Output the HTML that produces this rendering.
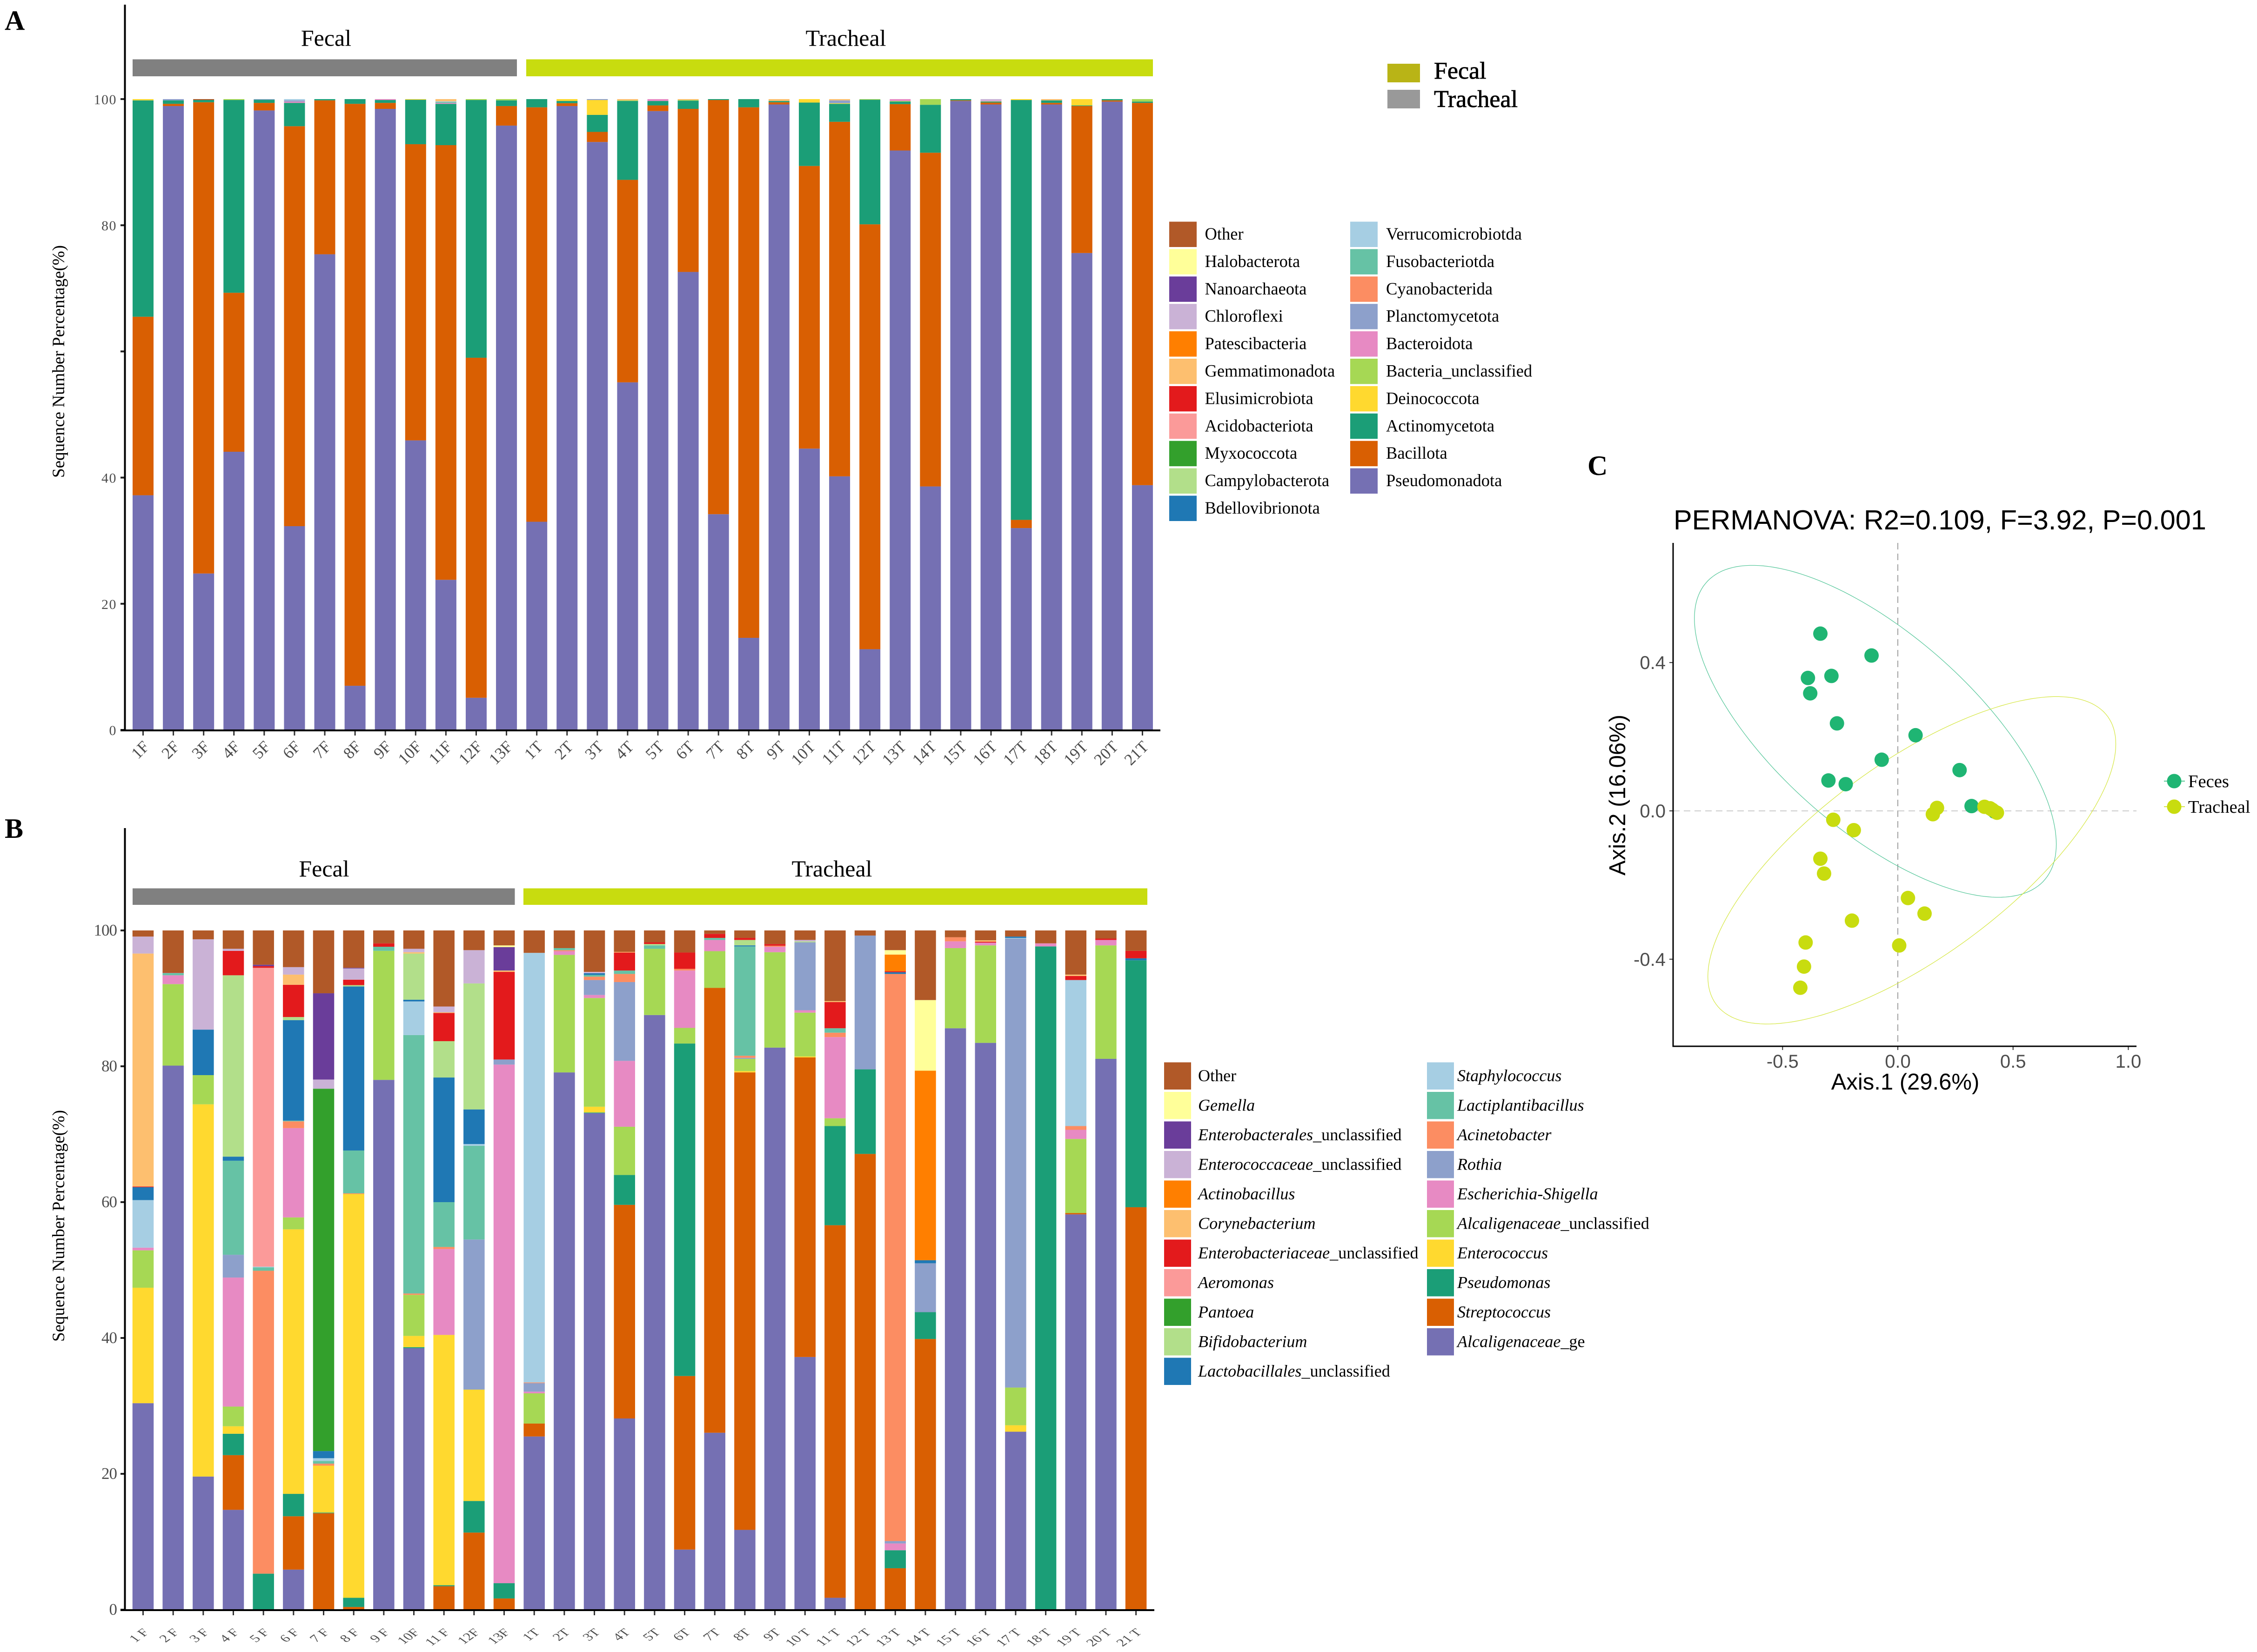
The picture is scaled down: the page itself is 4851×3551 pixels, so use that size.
<!DOCTYPE html>
<html lang="en">
<head>
<meta charset="utf-8">
<title>Microbiome composition at phylum and genus level with PCoA</title>
<style>
html,body{margin:0;padding:0;background:#fff;width:4851px;height:3551px;overflow:hidden}
svg{display:block}
text{font-family:"Liberation Serif",serif}
.sans{font-family:"Liberation Sans",sans-serif}
</style>
</head>
<body>
<svg id="figure" xmlns="http://www.w3.org/2000/svg" width="4851" height="3551" viewBox="0 0 4851 3551">
  <rect x="0" y="0" width="4851" height="3551" fill="#fff"/>

  <text x="10" y="64" font-size="60" font-weight="bold">A</text>
  <text x="10" y="1801" font-size="60" font-weight="bold">B</text>
  <text x="3412" y="1021" font-size="60" font-weight="bold">C</text>

  <rect x="285" y="127.5" width="826" height="36.5" fill="#808080"/>
  <rect x="1131" y="127.5" width="1347" height="36.5" fill="#c8dc0f"/>
  <text x="701" y="98.5" font-size="50" text-anchor="middle">Fecal</text>
  <text x="1818" y="98.5" font-size="50" text-anchor="middle">Tracheal</text>
  <text transform="translate(138,777) rotate(-90)" font-size="37" text-anchor="middle" textLength="500" lengthAdjust="spacingAndGlyphs">Sequence Number Percentage(%)</text>

  <rect x="285" y="1909.5" width="821.5" height="35.5" fill="#808080"/>
  <rect x="1125" y="1909.5" width="1341" height="35.5" fill="#c8dc0f"/>
  <text x="696.5" y="1884" font-size="50" text-anchor="middle">Fecal</text>
  <text x="1788" y="1884" font-size="50" text-anchor="middle">Tracheal</text>
  <text transform="translate(138,2635) rotate(-90)" font-size="37" text-anchor="middle" textLength="498" lengthAdjust="spacingAndGlyphs">Sequence Number Percentage(%)</text>

  <g>
    <rect x="2982" y="137" width="70" height="40" fill="#b9b416"/>
    <rect x="2982" y="193" width="70" height="40" fill="#999999"/>
    <text x="3082" y="169" font-size="52" stroke="#000" stroke-width="0.8">Fecal</text>
    <text x="3082" y="230" font-size="52" stroke="#000" stroke-width="0.8">Tracheal</text>
  </g>

  <g id="panel-a"></g>
  <g id="panel-b"></g>
  <g id="legend-a"></g>
  <g id="legend-b"></g>

  <text class="sans" x="3597" y="1138" font-size="59.5">PERMANOVA: R2=0.109, F=3.92, P=0.001</text>
  <text class="sans" x="4095" y="2342" font-size="49" text-anchor="middle">Axis.1 (29.6%)</text>
  <text class="sans" transform="translate(3493,1709) rotate(-90)" font-size="49" text-anchor="middle">Axis.2 (16.06%)</text>
  <g id="panel-c"></g>
  <g>
    <line x1="4651" x2="4696" y1="1679" y2="1679" stroke="#1fb573" stroke-width="1.5"/>
    <circle cx="4673" cy="1679" r="15.5" fill="#1fb573"/>
    <text x="4703" y="1692" font-size="38.6">Feces</text>
    <line x1="4651" x2="4696" y1="1734" y2="1734" stroke="#c8dc0f" stroke-width="1.5"/>
    <circle cx="4673" cy="1734" r="15.5" fill="#c8dc0f"/>
    <text x="4703" y="1747" font-size="38.6">Tracheal</text>
  </g>
</svg>

<script>
/* ---------- Panel A data: phylum level, heights in percent, stacked bottom to top ---------- */
const phylumSamples = ["1F","2F","3F","4F","5F","6F","7F","8F","9F","10F","11F","12F","13F","1T","2T","3T","4T","5T","6T","7T","8T","9T","10T","11T","12T","13T","14T","15T","16T","17T","18T","19T","20T","21T"];
const phylumTicks = [0,20,40,60,80,100];
const phylumTickLabels = ["0","20","40","","80","100"];
const pseudomonadota = [37.2,98.9,24.8,44.1,98.2,32.3,75.4,7,98.45,45.9,23.8,5.1,95.8, 33,98.9,93.2,55.1,98.1,72.6,34.2,14.6,99.15,44.6,40.2,12.8,91.85,38.6,99.7,99.15,32,99.15,75.6,99.6,38.8];
const bacillota = [28.3,.35,74.7,25.2,1.2,63.4,24.4,92.25,.95,46.95,68.9,53.9,3.1, 65.7,.45,1.6,32.1,.9,25.85,65.65,84.1,.35,44.8,56.2,67.35,7.35,52.9,.1,.3,1.3,.25,23.3,.2,60.6];
const actinomycetota = [34.3,.55,.35,30.55,.5,3.7,.2,.75,.45,7.05,6.55,40.85,.9, 1.3,.35,2.7,12.5,.7,1.3,.15,1.3,.2,10.05,2.85,19.75,.4,7.6,.2,.15,66.55,.4,.1,.2,.2];
const deinococcota = [.2,0,0,0,0,0,0,0,0,.1,0,0,0, 0,.3,2.35,0,0,0,0,0,0,.55,.1,0,0,0,0,0,.15,0,1,0,0];
const bacteriaUnclassified = [0,0,0,.15,0,0,0,0,0,0,0,.15,.2, 0,0,0,.1,0,.1,0,0,0,0,0,.1,.1,.9,0,.05,0,0,0,0,.4];
const bacteroidota = [0,0,0,0,0,.2,0,0,.15,0,.15,0,0, 0,0,0,0,.3,0,0,0,0,0,0,0,.3,0,0,.1,0,0,0,0,0];
const planctomycetota = [0,.2,0,0,.1,.2,0,0,0,0,0,0,0, 0,0,.15,0,0,0,0,0,0,0,.45,0,0,0,0,0,0,0,0,0,0];
const fusobacteriotda = [0,0,0,0,0,0,0,0,0,0,.15,0,0, 0,0,0,0,0,0,0,0,0,0,0,0,0,0,0,0,0,0,0,0,0];
const verrucomicrobiotda = [0,0,0,0,0,.2,0,0,0,0,.1,0,0, 0,0,0,0,0,0,0,0,0,0,0,0,0,0,0,0,0,0,0,0,0];
const gemmatimonadota = [0,0,0,0,0,0,0,0,0,0,.35,0,0, 0,0,0,.2,0,.15,0,0,.3,0,.2,0,0,0,0,0,0,.2,0,0,0];
const chloroflexi = [0,0,0,0,0,0,0,0,0,0,0,0,0, 0,0,0,0,0,0,0,0,0,0,0,0,0,0,0,.25,0,0,0,0,0];
const phylumOther = [0,0,.15,0,0,0,0,0,0,0,0,0,0, 0,0,0,0,0,0,0,0,0,0,0,0,0,0,0,0,0,0,0,0,0];
const phylumStackNames = ["Pseudomonadota","Bacillota","Actinomycetota","Deinococcota","Bacteria_unclassified","Bacteroidota","Planctomycetota","Fusobacteriotda","Verrucomicrobiotda","Gemmatimonadota","Chloroflexi","Other"];
const phylumStackValues = [pseudomonadota,bacillota,actinomycetota,deinococcota,bacteriaUnclassified,bacteroidota,planctomycetota,fusobacteriotda,verrucomicrobiotda,gemmatimonadota,chloroflexi,phylumOther];
const phylumLegendCol1 = ["Other","Halobacterota","Nanoarchaeota","Chloroflexi","Patescibacteria","Gemmatimonadota","Elusimicrobiota","Acidobacteriota","Myxococcota","Campylobacterota","Bdellovibrionota"];
const phylumLegendCol2 = ["Verrucomicrobiotda","Fusobacteriotda","Cyanobacterida","Planctomycetota","Bacteroidota","Bacteria_unclassified","Deinococcota","Actinomycetota","Bacillota","Pseudomonadota"];

/* ---------- Panel B data: genus level, heights in percent, stacked bottom to top ---------- */
const genusSamples = ["1 F","2 F","3 F","4 F","5 F","6 F","7 F","8 F","9 F","10F","11 F","12F","13F","1T","2T","3T","4T","5T","6T","7T","8T","9T","10 T","11 T","12 T","13 T","14 T","15 T","16 T","17 T","18 T","19 T","20 T","21 T"];
const genusTicks = [0,20,40,60,80,100];
const genusTickLabels = ["0","20","40","60","80","100"];
const alcaligenaceaeGe = [30.4,80.1,19.6,14.7,0,5.9,0,0,78,38.5,0,0,0, 25.5,79.1,73.1,28.15,87.55,8.85,26.05,11.75,82.75,37.2,1.75,0,0,0,85.6,83.45,26.2,0,58.2,81.1,0];
const streptococcus = [0,0,0,8.05,0,7.85,14.2,.4,0,0,3.45,11.35,1.65, 1.9,0,0,31.45,0,25.55,65.5,67.35,0,44.1,54.85,67.1,6.1,39.85,0,0,0,0,.2,0,59.25];
const pseudomonas = [0,0,0,3.15,5.3,3.3,.1,1.35,0,.15,.15,4.65,2.25, 0,0,.1,4.4,0,48.95,0,0,0,0,14.6,12.45,2.65,3.95,0,0,0,97.65,0,0,36.35];
const enterococcus = [17,0,54.8,1.1,0,38.95,6.9,59.45,0,1.65,36.85,16.4,0, 0,0,.85,0,0,0,0,.2,0,.15,0,0,0,0,0,0,.95,0,0,0,0];
const alcaligenaceaeUnclassified = [5.5,12,4.3,2.9,0,1.75,0,0,19,6.05,0,0,0, 4.45,17.3,16,7.1,9.75,2.3,5.4,1.8,14.05,6.45,1.15,0,0,0,11.8,14.35,5.55,0,10.9,16.7,0];
const escherichiaShigella = [.4,1.3,0,19,0,13.15,0,0,0,0,12.65,0,76.35, .25,.55,.45,9.7,0,8.45,1.65,0,.8,.35,11.95,0,1,0,1,.4,0,.45,1.35,.8,0];
const rothia = [0,0,0,3.35,0,0,0,0,0,0,0,22.1,.75, 1.25,0,2.2,11.6,0,0,0,.15,0,10,0,19.7,.35,7.2,0,0,66.1,0,0,0,0];
const acinetobacter = [0,0,0,0,44.6,1,.3,.1,0,.2,.3,0,0, .1,.15,.5,1.2,0,.25,0,.3,.15,0,.65,0,83.5,0,.6,0,0,0,.55,0,0];
const lactiplantibacillus = [0,.35,0,13.85,.5,.1,.4,6.3,.6,38.05,6.6,13.8,0, 0,.3,.25,.5,.5,0,.3,16.1,0,0,.65,0,0,0,0,0,0,0,0,0,0];
const staphylococcus = [7,0,0,0,.1,0,.4,0,0,4.95,0,.25,0, 63.25,0,0,0,0,0,0,0,0,0,0,0,0,0,0,0,.1,0,21.5,0,0];
const lactobacillalesUnclassified = [1.9,0,6.7,.6,0,14.8,1.05,24.15,0,.25,18.35,5.1,0, 0,0,.25,0,0,0,0,.15,0,0,0,0,.25,.45,0,0,.2,0,0,0,.3];
const bifidobacterium = [0,0,0,26.7,0,.45,0,.2,0,6.8,5.35,18.55,0, 0,0,0,0,.2,0,0,.8,0,.15,0,0,0,0,0,0,0,0,0,0,0];
const pantoea = [0,0,0,0,0,0,53.35,0,0,0,0,0,0, 0,0,0,0,0,0,0,0,0,0,0,0,0,0,0,0,0,0,0,0,0];
const aeromonas = [0,0,0,0,44,0,0,0,0,0,0,0,0, 0,0,0,0,0,0,0,0,0,0,0,0,0,0,0,0,0,0,0,0,0];
const enterobacteriaceaeUnclassified = [.1,.05,0,3.6,.25,4.75,0,.8,.5,0,4.15,0,12.9, 0,0,0,2.65,.25,2.4,.6,.3,.25,0,3.85,0,.15,0,0,.15,0,0,.6,.2,1.1];
const corynebacterium = [34.3,0,0,0,0,1.5,0,0,0,.2,.1,0,.2, 0,0,0,.1,0,0,0,0,0,0,.15,0,0,0,0,.2,0,0,.2,0,0];
const actinobacillus = [0,0,0,0,0,0,0,0,0,0,0,0,0, 0,0,0,0,0,0,0,0,0,0,0,0,2.45,27.9,0,0,0,0,0,0,0];
const enterococcaceaeUnclassified = [2.5,0,13.3,.3,0,1.1,1.35,1.65,0,.5,.85,4.9,0, 0,0,.2,0,0,0,0,0,0,.2,0,0,0,0,0,0,0,0,0,0,0];
const enterobacteralesUnclassified = [0,0,0,0,.2,0,12.7,.1,0,0,0,0,3.45, 0,0,0,0,0,0,0,0,0,0,0,0,0,0,0,0,0,0,0,0,0];
const gemella = [0,0,0,0,0,0,0,0,0,0,0,0,.25, 0,0,0,0,0,0,0,0,0,0,0,0,.65,10.4,0,0,0,0,0,0,0];
const genusOther = [.9,6.2,1.3,2.7,5.05,5.4,9.25,5.5,1.9,2.7,11.2,2.9,2.2, 3.3,2.6,6.1,3.15,1.75,3.25,.5,1.1,2,1.4,10.4,.75,2.9,10.25,1,1.45,.9,1.9,6.5,1.2,3];
const genusStackNames = ["Alcaligenaceae_ge","Streptococcus","Pseudomonas","Enterococcus","Alcaligenaceae_unclassified","Escherichia-Shigella","Rothia","Acinetobacter","Lactiplantibacillus","Staphylococcus","Lactobacillales_unclassified","Bifidobacterium","Pantoea","Aeromonas","Enterobacteriaceae_unclassified","Corynebacterium","Actinobacillus","Enterococcaceae_unclassified","Enterobacterales_unclassified","Gemella","Other"];
const genusStackValues = [alcaligenaceaeGe,streptococcus,pseudomonas,enterococcus,alcaligenaceaeUnclassified,escherichiaShigella,rothia,acinetobacter,lactiplantibacillus,staphylococcus,lactobacillalesUnclassified,bifidobacterium,pantoea,aeromonas,enterobacteriaceaeUnclassified,corynebacterium,actinobacillus,enterococcaceaeUnclassified,enterobacteralesUnclassified,gemella,genusOther];
const genusLegendCol1 = ["Other","Gemella","Enterobacterales_unclassified","Enterococcaceae_unclassified","Actinobacillus","Corynebacterium","Enterobacteriaceae_unclassified","Aeromonas","Pantoea","Bifidobacterium","Lactobacillales_unclassified"];
const genusLegendCol2 = ["Staphylococcus","Lactiplantibacillus","Acinetobacter","Rothia","Escherichia-Shigella","Alcaligenaceae_unclassified","Enterococcus","Pseudomonas","Streptococcus","Alcaligenaceae_ge"];

/* ---------- Panel C data: ordination coordinates ---------- */
const fecesAxis1 = [-.336,-.114,-.39,-.288,-.38,-.264,.077,-.07,.268,-.301,-.226,.32,.42];
const fecesAxis2 = [.478,.419,.3585,.364,.317,.236,.204,.138,.11,.082,.072,.013,-.002];
const trachealAxis1 = [.17,.152,.376,.40,.41,.43,-.28,-.191,-.336,-.32,.044,.116,-.199,.006,-.40,-.407,-.423];
const trachealAxis2 = [.008,-.009,.011,.007,.003,-.005,-.024,-.052,-.129,-.169,-.235,-.277,-.296,-.363,-.355,-.42,-.477];
/* ellipse: centre x, centre y, half-extent x, half-extent y, correlation */
const fecesEllipse = [-.0975,.2146,.785,.4476,-.68];
const trachealEllipse = [.0608,-.1333,.885,.4415,.71];
const pcoaXTicks = [-.5,0,.5,1];
const pcoaXTickLabels = ["-0.5","0.0","0.5","1.0"];
const pcoaYTicks = [-.4,0,.4];
const pcoaYTickLabels = ["-0.4","0.0","0.4"];

/* ---------- Palette ---------- */
const swatchColors = {
  "Other":"#b15928","Halobacterota":"#ffff99","Nanoarchaeota":"#6a3d9a","Chloroflexi":"#cab2d6","Patescibacteria":"#ff7f00","Gemmatimonadota":"#fdbf6f","Elusimicrobiota":"#e31a1c","Acidobacteriota":"#fb9a99","Myxococcota":"#33a02c","Campylobacterota":"#b2df8a","Bdellovibrionota":"#1f78b4","Verrucomicrobiotda":"#a6cee3","Fusobacteriotda":"#66c2a5","Cyanobacterida":"#fc8d62","Planctomycetota":"#8da0cb","Bacteroidota":"#e78ac3","Bacteria_unclassified":"#a6d854","Deinococcota":"#ffd92f","Actinomycetota":"#1b9e77","Bacillota":"#d95f02","Pseudomonadota":"#7570b3",
  "Gemella":"#ffff99","Enterobacterales_unclassified":"#6a3d9a","Enterococcaceae_unclassified":"#cab2d6","Actinobacillus":"#ff7f00","Corynebacterium":"#fdbf6f","Enterobacteriaceae_unclassified":"#e31a1c","Aeromonas":"#fb9a99","Pantoea":"#33a02c","Bifidobacterium":"#b2df8a","Lactobacillales_unclassified":"#1f78b4","Staphylococcus":"#a6cee3","Lactiplantibacillus":"#66c2a5","Acinetobacter":"#fc8d62","Rothia":"#8da0cb","Escherichia-Shigella":"#e78ac3","Alcaligenaceae_unclassified":"#a6d854","Enterococcus":"#ffd92f","Pseudomonas":"#1b9e77","Streptococcus":"#d95f02","Alcaligenaceae_ge":"#7570b3"
};

/* ---------- Helpers ---------- */
const NS = "http://www.w3.org/2000/svg";
function make(tag, geometry) {
  const node = document.createElementNS(NS, tag);
  for (const key in geometry) node.setAttribute(key, geometry[key]);
  return node;
}
function slug(s) { return s.toLowerCase().replace(/[^a-z0-9]+/g, "-"); }

/* ---------- Stacked bars ---------- */
function drawStacked(cfg) {
  const host = document.getElementById(cfg.host);
  const xPos = i => cfg.firstCenter + i * cfg.step;
  const yPos = v => cfg.baseY - v * cfg.unit;

  cfg.samples.forEach((sample, i) => {
    let running = 0;
    cfg.names.forEach((name, s) => {
      const value = cfg.values[s][i];
      if (!value) return;
      const rect = make("rect", {
        x: xPos(i) - cfg.barWidth / 2,
        y: yPos(running + value),
        width: cfg.barWidth,
        height: value * cfg.unit,
        fill: swatchColors[name]
      });
      
      
      host.appendChild(rect);
      running += value;
    });

    const tick = make("line", { x1: xPos(i), x2: xPos(i), y1: cfg.baseY, y2: cfg.baseY + 12, stroke: "#333", "stroke-width": 3 });
    
    
    host.appendChild(tick);

    const label = make("text", {
      transform: "translate(" + (xPos(i) + cfg.labelDx) + "," + (cfg.baseY + cfg.labelDy) + ") scale(1," + cfg.labelScale + ") rotate(-45)",
      "font-size": cfg.labelFont,
      "text-anchor": "end",
      fill: "#4d4d4d"
    });
    label.textContent = sample;
    
    
    host.appendChild(label);
  });

  cfg.ticks.forEach((t, i) => {
    const tick = make("line", { x1: 259, x2: 268, y1: yPos(t), y2: yPos(t), stroke: "#222", "stroke-width": 4 });
    
    
    host.appendChild(tick);
    if (cfg.tickLabels[i]) {
      const label = make("text", { x: 251, y: yPos(t) + 11, "font-size": cfg.tickFont, "text-anchor": "end", "letter-spacing": cfg.tickSpacing, fill: "#4d4d4d" });
      label.textContent = cfg.tickLabels[i];
      
      
      host.appendChild(label);
    }
  });

  const yAxis = make("line", { x1: 268.5, x2: 268.5, y1: cfg.topY, y2: cfg.baseY + 2, stroke: "#000", "stroke-width": 4 });
  
  
  host.appendChild(yAxis);

  const xAxis = make("line", { x1: 259, x2: cfg.rightX, y1: cfg.baseY + 1, y2: cfg.baseY + 1, stroke: "#000", "stroke-width": 4 });
  
  
  host.appendChild(xAxis);
}

drawStacked({
  host: "panel-a", samples: phylumSamples, names: phylumStackNames, values: phylumStackValues,
  ticks: phylumTicks, tickLabels: phylumTickLabels,
  firstCenter: 307.5, step: 65.09, barWidth: 45, baseY: 1569, unit: 13.56, topY: 10, rightX: 2494,
  labelDx: 15, labelDy: 38, labelScale: 1, labelFont: 35, tickFont: 30, tickSpacing: 1.5
});
drawStacked({
  host: "panel-b", samples: genusSamples, names: genusStackNames, values: genusStackValues,
  ticks: genusTicks, tickLabels: genusTickLabels,
  firstCenter: 307.5, step: 64.67, barWidth: 45.5, baseY: 3460, unit: 14.6, topY: 1780, rightX: 2481,
  labelDx: 14, labelDy: 50, labelScale: 0.7, labelFont: 33, tickFont: 35, tickSpacing: -1
});

/* ---------- Legends ---------- */
function drawLegend(cfg) {
  const host = document.getElementById(cfg.host);
  cfg.columns.forEach((column, c) => {
    column.forEach((name, r) => {
      const swatch = make("rect", {
        x: cfg.swatchX[c], y: cfg.top + r * cfg.pitch,
        width: cfg.swatchW, height: cfg.swatchH, fill: swatchColors[name]
      });
      
      
      host.appendChild(swatch);

      const label = make("text", { x: cfg.textX[c], y: cfg.baseline + r * cfg.pitch, "font-size": cfg.font });
      
      
      if (cfg.italic && name !== "Other") {
        const parts = name.split("_");
        const main = make("tspan", { "font-style": "italic" });
        main.textContent = parts[0];
        label.appendChild(main);
        if (parts[1]) {
          const rest = make("tspan", {});
          rest.textContent = "_" + parts[1];
          label.appendChild(rest);
        }
      } else {
        label.textContent = name;
      }
      host.appendChild(label);
    });
  });
}
drawLegend({
  host: "legend-a", columns: [phylumLegendCol1, phylumLegendCol2], italic: false,
  swatchX: [2513, 2902], textX: [2589.5, 2979], top: 476.5, pitch: 58.9, swatchW: 59, swatchH: 54.5, baseline: 515, font: 36.5
});
drawLegend({
  host: "legend-b", columns: [genusLegendCol1, genusLegendCol2], italic: true,
  swatchX: [2502, 3067], textX: [2575, 3132], top: 2283.5, pitch: 63.5, swatchW: 58, swatchH: 58.5, baseline: 2324, font: 36.1
});

/* ---------- PCoA scatter ---------- */
(function () {
  const host = document.getElementById("panel-c");
  const xc = v => 4079 + v * 495.4;
  const yc = v => 1743 - v * 797;

  const vGuide = make("line", { x1: xc(0), x2: xc(0), y1: 1167, y2: 2249, stroke: "#888", "stroke-width": 1.6, "stroke-dasharray": "14 9" });
  
  
  host.appendChild(vGuide);

  const hGuide = make("line", { x1: 3596, x2: 4592, y1: yc(0), y2: yc(0), stroke: "#bbb", "stroke-width": 1.6, "stroke-dasharray": "14 9" });
  
  
  host.appendChild(hGuide);

  function ellipsePath(p) {
    const parts = [];
    const sq = Math.sqrt(1 - p[4] * p[4]);
    for (let k = 0; k <= 180; k++) {
      const t = k / 180 * 2 * Math.PI;
      const px = xc(p[0] + p[2] * Math.cos(t));
      const py = yc(p[1] + p[3] * (p[4] * Math.cos(t) + sq * Math.sin(t)));
      parts.push((k ? "L" : "M") + px.toFixed(1) + " " + py.toFixed(1));
    }
    return parts.join("") + "Z";
  }

  const fecesPath = make("path", { d: ellipsePath(fecesEllipse), fill: "none", stroke: "#4dc495", "stroke-width": 1.2 });
  
  
  host.appendChild(fecesPath);

  const trachealPath = make("path", { d: ellipsePath(trachealEllipse), fill: "none", stroke: "#d4e63c", "stroke-width": 1.2 });
  
  
  host.appendChild(trachealPath);

  fecesAxis1.forEach((v, i) => {
    const dot = make("circle", { cx: xc(v), cy: yc(fecesAxis2[i]), r: 15.5, fill: "#1fb573" });
    
    
    host.appendChild(dot);
  });
  trachealAxis1.forEach((v, i) => {
    const dot = make("circle", { cx: xc(v), cy: yc(trachealAxis2[i]), r: 15.5, fill: "#c8dc0f" });
    
    
    host.appendChild(dot);
  });

  pcoaXTicks.forEach((t, i) => {
    const tick = make("line", { x1: xc(t), x2: xc(t), y1: 2249, y2: 2257, stroke: "#333", "stroke-width": 2 });
    
    
    host.appendChild(tick);
    const label = make("text", { class: "sans", x: xc(t), y: 2295, "font-size": 40, "text-anchor": "middle", fill: "#4d4d4d" });
    label.textContent = pcoaXTickLabels[i];
    
    
    host.appendChild(label);
  });
  pcoaYTicks.forEach((t, i) => {
    const tick = make("line", { x1: 3588, x2: 3596, y1: yc(t), y2: yc(t), stroke: "#333", "stroke-width": 2 });
    
    
    host.appendChild(tick);
    const label = make("text", { class: "sans", x: 3580, y: yc(t) + 14, "font-size": 40, "text-anchor": "end", fill: "#4d4d4d" });
    label.textContent = pcoaYTickLabels[i];
    
    
    host.appendChild(label);
  });

  const axisY = make("line", { x1: 3596, x2: 3596, y1: 1167, y2: 2250.5, stroke: "#000", "stroke-width": 3 });
  
  
  host.appendChild(axisY);

  const axisX = make("line", { x1: 3594.5, x2: 4592, y1: 2249, y2: 2249, stroke: "#000", "stroke-width": 3 });
  
  
  host.appendChild(axisX);
})();
</script>
</body>
</html>
